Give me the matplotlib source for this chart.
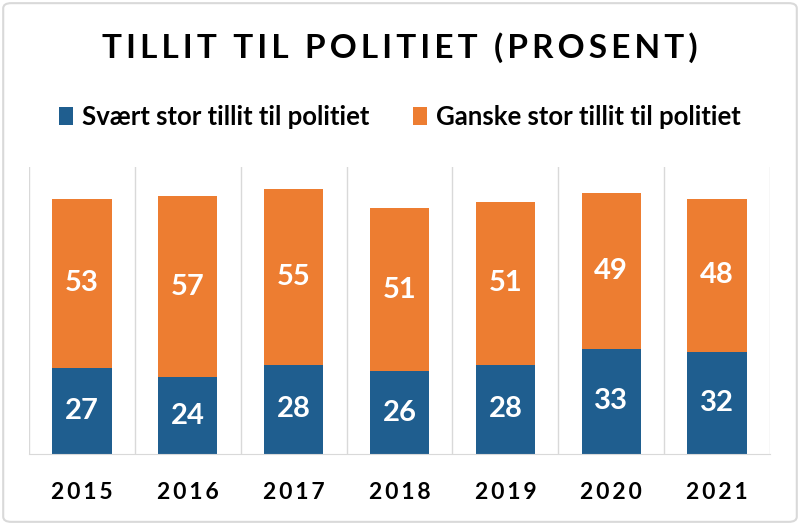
import numpy as np
import matplotlib
matplotlib.use("Agg")
import matplotlib.pyplot as plt
from matplotlib.patches import FancyBboxPatch

# data
years = ["2015", "2016", "2017", "2018", "2019", "2020", "2021"]
svaert = [27, 24, 28, 26, 28, 33, 32]
ganske = [53, 57, 55, 51, 51, 49, 48]
labels = ["Svært stor tillit til politiet", "Ganske stor tillit til politiet"]
title = "TILLIT TIL POLITIET (PROSENT)"

blue = "#1F5E8F"
orange = "#ED7D31"
font = ["Lato", "DejaVu Sans"]

fig = plt.figure(figsize=(8, 5.25), dpi=100)
ax = fig.add_axes([0.03625, 0.1352, 0.92625, 0.5467])

x = np.arange(len(years))
b1 = ax.bar(x, svaert, width=0.56, color=blue, label=labels[0])
b2 = ax.bar(x, ganske, width=0.56, bottom=svaert, color=orange, label=labels[1])

# data labels in the middle of each segment
for i in range(len(years)):
    ax.text(x[i], svaert[i] / 2, str(svaert[i]), ha="center", va="center",
            color="white", fontsize=21, fontweight="bold", family=font)
    ax.text(x[i], svaert[i] + ganske[i] / 2, str(ganske[i]), ha="center", va="center",
            color="white", fontsize=21, fontweight="bold", family=font)

ax.set_xlim(-0.5, len(years) - 0.5)
ax.set_ylim(0, 90)
ax.set_yticks([])
ax.set_xticks(x)
ax.set_xticklabels(["\u2009".join(y) for y in years], fontsize=16.5, fontweight="bold", family=font)
ax.tick_params(axis="x", length=0, pad=20)

# separators between the categories
for s in np.arange(-0.5, len(years), 1.0):
    ax.axvline(s, color="#D9D9D9", lw=1, zorder=0)
for side in ["top", "left", "right"]:
    ax.spines[side].set_visible(False)
ax.spines["bottom"].set_color("#D9D9D9")

fig.text(0.5, 0.91, "\u2009".join(title),
         ha="center", va="center", fontsize=24, fontweight="bold", family=font)

leg = fig.legend(handles=[b1, b2], loc="center", bbox_to_anchor=(0.5, 0.778), ncol=2,
                 frameon=False, handlelength=0.55, handleheight=0.7, handletextpad=0.35,
                 columnspacing=1.7, prop={"family": font, "weight": "bold", "size": 18.5})

# outer border
border = FancyBboxPatch((0.004, 0.006), 0.992, 0.988, boxstyle="round,pad=0,rounding_size=0.01",
                        transform=fig.transFigure, fill=False, edgecolor="#D9D9D9", lw=1.5)
fig.patches.append(border)

fig.savefig("out.png", dpi=100)
